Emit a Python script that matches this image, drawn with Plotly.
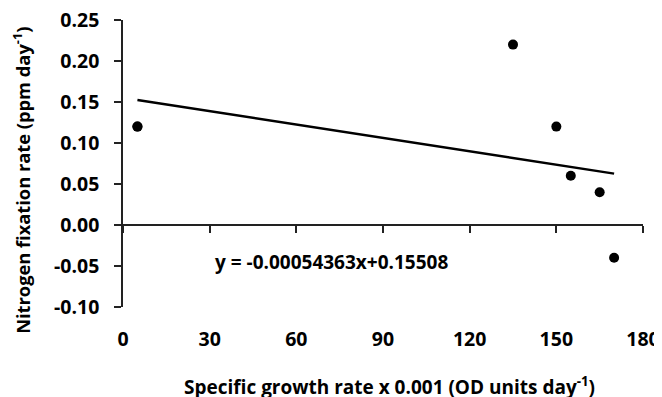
import plotly.graph_objects as go

growth_rate = [5, 135, 150, 155, 165, 170]
n_fixation = [0.12, 0.22, 0.12, 0.06, 0.04, -0.04]
slope = -0.00054363
intercept = 0.15508
x_ticks = [0, 30, 60, 90, 120, 150, 180]
x_tick_labels = ["0", "30", "60", "90", "120", "150", "180"]
y_ticks = [-0.10, -0.05, 0.00, 0.05, 0.10, 0.15, 0.20, 0.25]
y_tick_labels = ["-0.10", "-0.05", "0.00", "0.05", "0.10", "0.15", "0.20", "0.25"]
eq_text = "y = -0.00054363x+0.15508"
x_title = "Specific growth rate x 0.001 (OD units day<sup>-1</sup>)"
y_title = "Nitrogen fixation rate (ppm day<sup>-1</sup>)"

FONT = "Open Sans"
FS = 19.5
FS_T = 19
FS_YT = 18.3
y_range = [-0.10, 0.25]
zero_pos = (0 - y_range[0]) / (y_range[1] - y_range[0])

fit_x = [min(growth_rate), max(growth_rate)]
fit_y = [slope * v + intercept for v in fit_x]

fig = go.Figure()
fig.add_trace(go.Scatter(x=fit_x, y=fit_y, mode="lines",
                         line=dict(color="black", width=2.5), showlegend=False))
fig.add_trace(go.Scatter(x=growth_rate, y=n_fixation, mode="markers",
                         marker=dict(color="black", size=10), showlegend=False))
# trace on the zero-line axis (drawn over the first point so nothing extra shows)
fig.add_trace(go.Scatter(x=growth_rate[:1], y=n_fixation[:1], xaxis="x2", mode="markers",
                         marker=dict(color="black", size=10), showlegend=False,
                         hoverinfo="skip"))

bold = lambda s: "<b>" + s + "</b>"

# page body has an 8px margin, so the figure is sized/offset to land on the window
fig.update_layout(
    width=654, height=389,
    margin=dict(l=115, r=19, t=12, b=90),
    plot_bgcolor="white", paper_bgcolor="white",
    font=dict(family=FONT, size=FS, color="black"),
    xaxis=dict(range=[0, 180], tickvals=x_ticks, ticktext=[bold(t) for t in x_tick_labels],
               showline=False, showgrid=False, automargin=False, ticklabeloverflow="allow",
               zeroline=False, ticks="", ticklabelstandoff=18,
               tickfont=dict(family=FONT, size=FS, color="black")),
    xaxis2=dict(range=[0, 180], tickvals=x_ticks, overlaying="x", anchor="free",
                position=zero_pos, showline=True, linecolor="#222", linewidth=1.5,
                ticks="outside", ticklen=7, tickwidth=1.5, tickcolor="#222", automargin=False,
                showticklabels=False, showgrid=False, zeroline=False, side="bottom"),
    yaxis=dict(range=y_range, tickvals=y_ticks, ticktext=[bold(t) for t in y_tick_labels],
               showline=True, linecolor="#222", linewidth=1.5, automargin=False,
               ticklabeloverflow="allow",
               ticks="outside", ticklen=7, tickwidth=1.5, tickcolor="#222",
               showgrid=False, zeroline=False, ticklabelstandoff=11,
               tickfont=dict(family=FONT, size=FS, color="black")),
    annotations=[
        dict(text=bold(eq_text), x=72, y=-0.0455, xref="x", yref="y",
             showarrow=False, font=dict(family=FONT, size=FS_T, color="black")),
        dict(text=bold(x_title), x=0.513, y=-0.276, xref="paper", yref="paper",
             xanchor="center", yanchor="middle", showarrow=False,
             font=dict(family=FONT, size=FS_T, color="black")),
        dict(text=bold(y_title), x=-0.194, y=0.44, xref="paper", yref="paper",
             xanchor="center", yanchor="middle", textangle=-90, showarrow=False,
             font=dict(family=FONT, size=FS_YT, color="black")),
    ],
)

fig.write_html("out.html")
